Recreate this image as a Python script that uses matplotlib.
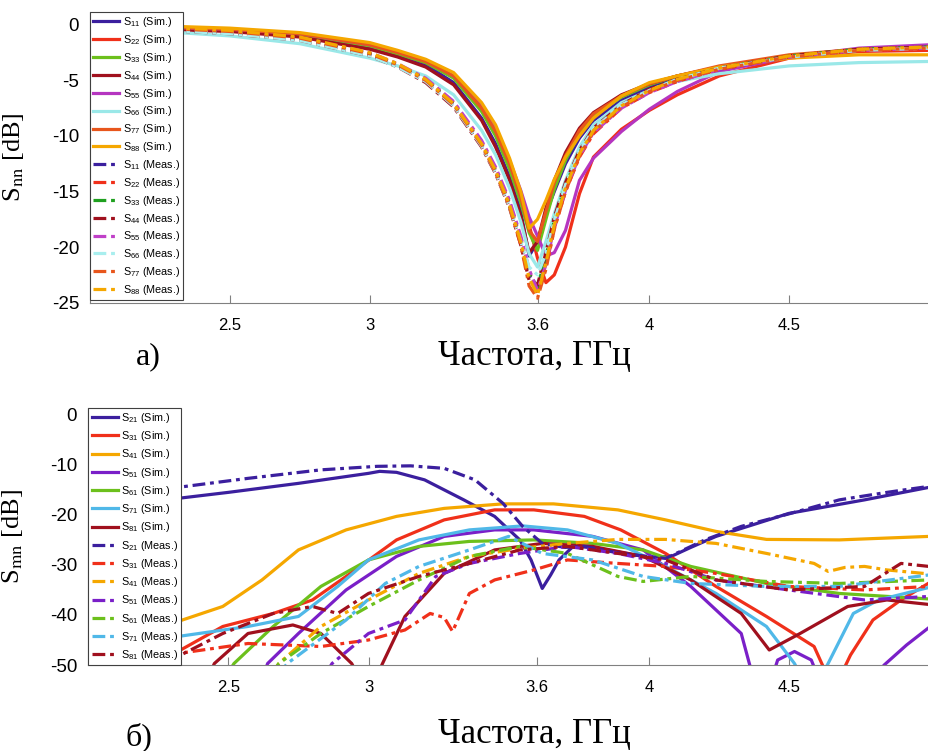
import matplotlib
matplotlib.use('Agg')
import matplotlib.pyplot as plt

plt.rcParams['font.family'] = ['Liberation Sans', 'DejaVu Sans']
plt.rcParams['mathtext.fontset'] = 'custom'
plt.rcParams['mathtext.rm'] = 'Liberation Sans'
plt.rcParams['mathtext.it'] = 'Liberation Sans:italic'
plt.rcParams['axes.unicode_minus'] = False

# ---- panel a): S_nn ----
freq_a = [2.0, 2.25, 2.5, 2.75, 3.0, 3.1, 3.2, 3.3, 3.4, 3.45, 3.5, 3.54, 3.57,
          3.6, 3.63, 3.66, 3.7, 3.75, 3.8, 3.9, 4.0, 4.1, 4.25, 4.5, 4.75, 5.0]

s11_sim = [-0.1, -0.3, -0.5, -1.0, -2.0, -2.7, -3.6, -5.2, -8.4, -10.7, -13.7, -16.8, -20.8,
           -19.5, -17.0, -15.0, -12.5, -10.2, -8.6, -6.8, -5.6, -4.8, -3.9, -2.9, -2.2, -1.9]
s22_sim = [-0.1, -0.3, -0.5, -0.9, -1.9, -2.6, -3.4, -4.7, -7.5, -9.7, -12.5, -15.3, -18.0,
           -21.0, -23.2, -22.5, -20.0, -15.2, -11.9, -9.4, -7.7, -6.3, -4.6, -3.0, -2.4, -2.3]
s33_sim = [-0.1, -0.3, -0.5, -0.9, -1.9, -2.6, -3.4, -4.8, -7.8, -10.0, -13.0, -16.0, -18.7,
           -20.3, -17.5, -14.8, -12.2, -9.8, -8.2, -6.5, -5.4, -4.6, -3.8, -2.8, -2.2, -2.0]
s44_sim = [-0.2, -0.4, -0.6, -1.1, -2.2, -2.9, -3.8, -5.4, -8.6, -11.0, -14.0, -17.2, -20.5,
           -19.5, -16.5, -14.0, -11.5, -9.3, -7.9, -6.3, -5.3, -4.6, -3.8, -2.8, -2.2, -2.0]
s55_sim = [-0.1, -0.2, -0.4, -0.8, -1.8, -2.4, -3.2, -4.6, -7.2, -9.3, -12.2, -14.9, -17.3,
           -19.0, -20.8, -20.5, -18.5, -14.0, -12.0, -9.6, -7.6, -6.0, -4.2, -2.9, -2.1, -1.8]
s66_sim = [-0.4, -0.6, -1.0, -1.7, -3.0, -3.7, -4.6, -6.3, -9.5, -11.7, -14.7, -17.7, -20.6,
           -21.8, -19.5, -17.0, -14.0, -11.0, -9.0, -7.0, -5.9, -5.1, -4.4, -3.7, -3.4, -3.3]
s77_sim = [-0.1, -0.2, -0.4, -0.8, -1.8, -2.5, -3.3, -4.6, -7.5, -9.6, -12.5, -15.5, -18.5,
           -19.5, -16.8, -14.2, -11.8, -9.5, -8.0, -6.4, -5.3, -4.6, -3.7, -2.7, -2.2, -2.0]
s88_sim = [0.1, -0.1, -0.3, -0.7, -1.6, -2.3, -3.1, -4.3, -7.0, -9.0, -12.0, -15.0, -18.3,
           -17.5, -15.8, -13.9, -11.9, -10.0, -8.4, -6.4, -5.2, -4.6, -3.8, -3.0, -2.7, -2.7]

s11_meas = [-0.2, -0.4, -0.7, -1.3, -2.7, -3.7, -5.0, -7.2, -10.8, -13.2, -16.3, -19.5, -22.5,
            -23.8, -21.0, -17.8, -14.6, -11.6, -9.6, -7.4, -6.0, -5.0, -4.0, -2.9, -2.3, -2.0]
s22_meas = [-0.2, -0.4, -0.7, -1.3, -2.6, -3.6, -4.9, -7.0, -10.6, -13.0, -16.0, -19.2, -22.2,
            -24.2, -21.8, -18.3, -15.0, -11.9, -9.8, -7.5, -6.1, -5.1, -4.0, -2.9, -2.3, -2.1]
s33_meas = [-0.2, -0.4, -0.7, -1.2, -2.6, -3.6, -4.9, -7.1, -10.7, -13.1, -16.2, -19.4, -22.4,
            -23.6, -20.8, -17.6, -14.4, -11.5, -9.5, -7.3, -5.9, -4.9, -3.9, -2.8, -2.2, -2.0]
s44_meas = [-0.2, -0.5, -0.8, -1.4, -2.8, -3.8, -5.2, -7.4, -11.0, -13.4, -16.5, -19.8, -23.0,
            -23.4, -20.5, -17.3, -14.2, -11.3, -9.3, -7.2, -5.8, -4.9, -3.9, -2.8, -2.2, -2.0]
s55_meas = [-0.1, -0.3, -0.6, -1.2, -2.5, -3.5, -4.8, -6.9, -10.4, -12.8, -15.8, -19.0, -22.0,
            -23.9, -21.6, -18.2, -14.9, -11.8, -9.7, -7.5, -6.1, -5.1, -4.0, -2.9, -2.3, -2.1]
s66_meas = [-0.3, -0.5, -0.8, -1.4, -2.8, -3.8, -5.1, -7.3, -10.9, -13.3, -16.4, -19.5, -21.8,
            -22.5, -20.6, -17.6, -14.4, -11.4, -9.4, -7.2, -5.9, -4.9, -3.9, -2.9, -2.3, -2.1]
s77_meas = [-0.1, -0.3, -0.6, -1.2, -2.6, -3.6, -5.0, -7.2, -10.8, -13.3, -16.4, -19.8, -23.5,
            -24.6, -22.0, -18.4, -15.0, -11.8, -9.6, -7.4, -6.0, -5.0, -4.0, -2.9, -2.3, -2.1]
s88_meas = [0.0, -0.2, -0.5, -1.1, -2.5, -3.5, -4.9, -7.1, -10.7, -13.1, -16.2, -19.5, -22.8,
            -24.3, -21.4, -18.0, -14.7, -11.6, -9.5, -7.3, -5.9, -4.9, -3.9, -2.8, -2.2, -2.0]

names_a = ['11', '22', '33', '44', '55', '66', '77', '88']
sim_a = [s11_sim, s22_sim, s33_sim, s44_sim, s55_sim, s66_sim, s77_sim, s88_sim]
meas_a = [s11_meas, s22_meas, s33_meas, s44_meas, s55_meas, s66_meas, s77_meas, s88_meas]
colors_sim_a = ['#3b1f9e', '#f0301a', '#6cc01c', '#a0101e', '#b535c0', '#9ae8e8', '#e8561c', '#f5a700']
colors_meas_a = ['#3b1f9e', '#f0301a', '#1fa01f', '#a0101e', '#c040c8', '#a8eeee', '#e8561c', '#f5a700']

# ---- panel b): S_mn ----
s21_sim_f = [2.0, 2.32, 2.5, 2.75, 3.0, 3.04, 3.1, 3.2, 3.34, 3.45, 3.54, 3.58, 3.62, 3.65,
             3.68, 3.73, 3.8, 3.9, 4.0, 4.08, 4.15, 4.24, 4.5, 4.77, 5.0]
s21_sim = [-18.5, -16.7, -15.5, -13.7, -11.7, -11.3, -11.5, -13.0, -17.0, -20.3, -25.0, -29.0,
           -34.7, -32.0, -29.0, -26.3, -26.5, -27.5, -28.5, -28.3, -26.5, -24.3, -19.7, -17.0, -14.5]
s31_sim_f = [2.0, 2.32, 2.48, 2.66, 2.8, 2.92, 3.1, 3.27, 3.45, 3.59, 3.77, 3.9, 4.06, 4.24,
             4.42, 4.59, 4.66, 4.72, 4.8, 4.9, 5.0]
s31_sim = [-52, -47.3, -42.3, -39.7, -37.0, -32.3, -25.0, -21.0, -19.0, -19.0, -20.3, -23.0,
           -27.7, -34.3, -40.3, -46.3, -55, -48, -41.0, -37.0, -33.6]
s41_sim_f = [2.0, 2.32, 2.48, 2.62, 2.75, 2.92, 3.1, 3.27, 3.48, 3.66, 3.89, 4.06, 4.24, 4.42,
             4.68, 5.0]
s41_sim = [-45.0, -41.3, -38.3, -33.0, -27.0, -23.0, -20.3, -18.7, -17.8, -17.8, -19.0, -21.0,
           -23.3, -24.9, -25.0, -24.3]
s51_sim_f = [2.6, 2.64, 2.75, 2.92, 3.1, 3.27, 3.45, 3.59, 3.8, 3.98, 4.15, 4.33, 4.37, 4.42,
             4.46, 4.52, 4.58, 4.63, 4.75, 4.84, 4.92, 5.0]
s51_sim = [-56, -49.7, -43.7, -35.0, -28.3, -24.3, -23.0, -23.0, -24.3, -27.0, -34.3, -43.7,
           -52, -56, -49, -47.3, -49, -56, -56, -50, -46, -42.5]
s61_sim_f = [2.45, 2.52, 2.66, 2.83, 3.0, 3.18, 3.36, 3.59, 3.8, 3.98, 4.15, 4.42, 4.68, 5.0]
s61_sim = [-56, -49.7, -42.3, -34.3, -29.0, -26.3, -25.3, -25.0, -25.7, -27.0, -30.3, -33.7,
           -35.7, -36.8]
s71_sim_f = [2.0, 2.32, 2.57, 2.75, 2.89, 3.0, 3.18, 3.36, 3.55, 3.71, 3.89, 4.06, 4.24, 4.42,
             4.52, 4.58, 4.64, 4.73, 4.82, 5.0]
s71_sim = [-46, -44.3, -42.3, -40.3, -34.3, -29.0, -25.0, -23.0, -22.2, -23.0, -25.7, -30.3,
           -35.7, -42.3, -49.7, -56, -49.7, -39.7, -37.0, -34.5]
s81_sim_f = [2.4, 2.45, 2.57, 2.73, 2.83, 2.94, 3.0, 3.05, 3.13, 3.27, 3.45, 3.62, 3.8, 3.98,
             4.15, 4.33, 4.43, 4.54, 4.71, 4.85, 5.0]
s81_sim = [-56, -49.7, -43.7, -42.0, -43.7, -49.7, -56, -49.7, -40.3, -31.7, -27.0, -25.7,
           -26.3, -28.3, -33.0, -39.7, -47.0, -43.7, -38.3, -37.0, -37.9]

s21_meas_f = [2.0, 2.32, 2.57, 2.83, 3.03, 3.15, 3.27, 3.38, 3.48, 3.55, 3.62, 3.7, 3.77, 3.9,
              4.06, 4.2, 4.33, 4.5, 4.68, 4.85, 5.0]
s21_meas = [-16.0, -14.5, -12.7, -11.0, -10.3, -10.2, -10.7, -13.0, -17.7, -22.3, -25.7, -26.5,
            -26.3, -27.7, -28.7, -25.0, -22.3, -19.8, -17.0, -15.5, -14.3]
s31_meas_f = [2.0, 2.32, 2.57, 2.83, 3.0, 3.13, 3.22, 3.27, 3.3, 3.36, 3.45, 3.59, 3.71, 3.89,
              4.06, 4.24, 4.5, 4.77, 5.0]
s31_meas = [-49, -47.7, -45.7, -46.3, -45.0, -43.0, -39.7, -40.5, -43.3, -35.7, -33.0, -31.0,
            -29.0, -29.7, -30.3, -31.7, -34.3, -35.0, -34.3]
s41_meas_f = [2.6, 2.68, 2.83, 3.0, 3.18, 3.36, 3.54, 3.71, 3.89, 4.06, 4.24, 4.42, 4.59, 4.64,
              4.7, 4.77, 4.85, 5.0]
s41_meas = [-56, -49.7, -42.3, -37.0, -31.7, -28.3, -26.7, -25.7, -24.9, -24.9, -25.7, -27.7,
            -29.7, -31.3, -30.5, -30.3, -31.0, -31.8]
s51_meas_f = [2.8, 2.87, 3.0, 3.13, 3.24, 3.36, 3.54, 3.71, 3.89, 4.06, 4.24, 4.5, 4.77, 5.0]
s51_meas = [-56, -49.7, -43.7, -41.0, -32.3, -29.7, -27.7, -26.3, -27.7, -29.7, -33.0, -35.0,
            -37.0, -36.3]
s61_meas_f = [2.6, 2.68, 2.83, 3.0, 3.18, 3.36, 3.54, 3.71, 3.89, 3.98, 4.15, 4.42, 4.68, 5.0]
s61_meas = [-56, -49.7, -43.7, -38.3, -33.0, -28.3, -26.3, -27.7, -32.3, -33.3, -32.3, -33.3,
            -33.7, -33.0]
s71_meas_f = [2.62, 2.71, 2.92, 3.06, 3.18, 3.36, 3.5, 3.62, 3.8, 3.98, 4.15, 4.42, 4.68, 5.0]
s71_meas = [-56, -49.7, -41.0, -33.7, -30.3, -27.0, -24.3, -27.7, -29.0, -32.3, -33.7, -34.3,
            -34.3, -32.0]
s81_meas_f = [2.0, 2.32, 2.48, 2.66, 2.8, 2.89, 3.0, 3.18, 3.36, 3.54, 3.71, 3.89, 4.06, 4.24,
              4.5, 4.77, 4.9, 5.0]
s81_meas = [-50, -48.3, -43.7, -39.7, -38.3, -39.7, -35.7, -32.3, -29.7, -27.0, -26.3, -27.7,
            -29.0, -33.0, -35.0, -34.3, -29.7, -30.3]

names_b = ['21', '31', '41', '51', '61', '71', '81']
sim_b = [(s21_sim_f, s21_sim), (s31_sim_f, s31_sim), (s41_sim_f, s41_sim), (s51_sim_f, s51_sim),
         (s61_sim_f, s61_sim), (s71_sim_f, s71_sim), (s81_sim_f, s81_sim)]
meas_b = [(s21_meas_f, s21_meas), (s31_meas_f, s31_meas), (s41_meas_f, s41_meas),
          (s51_meas_f, s51_meas), (s61_meas_f, s61_meas), (s71_meas_f, s71_meas),
          (s81_meas_f, s81_meas)]
colors_b = ['#3b1f9e', '#f0301a', '#f5a700', '#7a1fc8', '#6cc01c', '#50b8e8', '#a0101e']

xticks = [2.5, 3, 3.6, 4, 4.5]
meas_style = (0, (4, 1.5, 1.2, 1.5))
lw = 2.3

fig = plt.figure(figsize=(9.29, 7.51), dpi=100)
ax1 = fig.add_axes([0.097, 0.597, 0.903, 0.387])
ax2 = fig.add_axes([0.095, 0.1145, 0.905, 0.3425])

for name, y, c in zip(names_a, sim_a, colors_sim_a):
    ax1.plot(freq_a, y, color=c, lw=lw, label='S$_{' + name + '}$ (Sim.)')
for name, y, c in zip(names_a, meas_a, colors_meas_a):
    ax1.plot(freq_a, y, color=c, lw=lw, ls=meas_style, label='S$_{' + name + '}$ (Meas.)')

for name, (f, y), c in zip(names_b, sim_b, colors_b):
    ax2.plot(f, y, color=c, lw=lw, label='S$_{' + name + '}$ (Sim.)')
for name, (f, y), c in zip(names_b, meas_b, colors_b):
    ax2.plot(f, y, color=c, lw=lw, ls=meas_style, label='S$_{' + name + '}$ (Meas.)')

ax1.set_ylim(-25, 1.15)
ax1.set_yticks([0, -5, -10, -15, -20, -25])
ax2.set_ylim(-50, 1.4)
ax2.set_yticks([0, -10, -20, -30, -40, -50])

for ax, lab, sp in [(ax1, r'S$_{\mathrm{nn}}$ [dB]', 0.355), (ax2, r'S$_{\mathrm{mn}}$ [dB]', 0.39)]:
    ax.set_xlim(2.0, 5.0)
    ax.set_xticks(xticks)
    ax.set_xticklabels(['2.5', '3', '3.6', '4', '4.5'])
    for s in ['top', 'right']:
        ax.spines[s].set_visible(False)
    ax.spines['bottom'].set_color('#808080')
    ax.spines['left'].set_color('#808080')
    ax.tick_params(axis='x', direction='in', length=6, color='#808080', labelsize=12, pad=11)
    ax.tick_params(axis='y', length=0, labelsize=13.5, pad=8)
    ax.set_ylabel(lab, fontsize=19, family=['Liberation Serif'], math_fontfamily='stix')
    leg = ax.legend(loc='upper left', bbox_to_anchor=(0, 1.0), borderaxespad=0,
                    fontsize=7.8, handlelength=2.4, handletextpad=0.3, labelspacing=sp,
                    borderpad=0.3, fancybox=False, framealpha=1, edgecolor='#404040')
    leg.get_frame().set_linewidth(0.8)

ax1.yaxis.set_label_coords(-0.077, 0.5)
ax2.yaxis.set_label_coords(-0.075, 0.5)

fig.text(0.16, 0.525, 'а)', fontsize=23, family='Liberation Serif', ha='center', va='center')
fig.text(0.575, 0.525, 'Частота, ГГц', fontsize=25, family='Liberation Serif',
         ha='center', va='center')
fig.text(0.15, 0.018, 'б)', fontsize=23, family='Liberation Serif', ha='center', va='center')
fig.text(0.575, 0.022, 'Частота, ГГц', fontsize=25, family='Liberation Serif',
         ha='center', va='center')

fig.savefig('out.png', dpi=100)
